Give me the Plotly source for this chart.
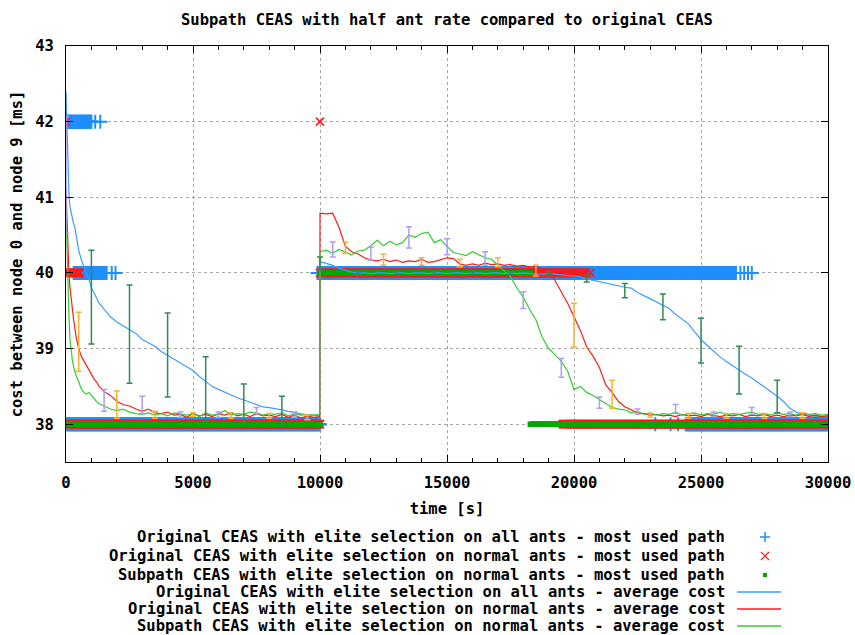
import plotly.graph_objects as go

# ---------------- data ----------------
TIME = ([0, 40, 80, 120, 160, 200, 250, 300, 350, 400, 500, 600, 700, 800, 900,
         1000, 1100, 1200, 1300, 1400, 1500]
        + list(range(1750, 10000, 250)) + [9990]
        + list(range(10000, 30001, 250)))

BLUE_AVG = [
    42.4, 41.8, 41.2, 41.0, 40.87, 40.8, 40.72, 40.65, 40.6, 40.5, 40.3, 40.18, 40.08, 40.0, 39.92,
    39.8, 39.74, 39.66, 39.6, 39.56, 39.52,
    39.42, 39.35, 39.3, 39.24, 39.2, 39.12, 39.07, 39.03, 38.96, 38.91, 38.86, 38.82, 38.77, 38.71,
    38.63, 38.56, 38.5, 38.46, 38.42, 38.38, 38.35, 38.32, 38.29, 38.26, 38.23, 38.22, 38.21, 38.19,
    38.17, 38.15, 38.14, 38.12, 38.12,
    38.11,
    40.15, 40.13, 40.10, 40.06,
    40.03, 40.01, 40.00, 40.00,
    39.99, 40.00, 40.00, 39.99,
    40.00, 40.00, 39.99, 40.00,
    40.00, 39.99, 40.00, 40.00,
    39.99, 40.00, 40.00, 39.99,
    40.00, 40.00, 39.99, 40.00,
    40.00, 39.99, 40.00, 39.99,
    40.00, 39.99, 39.99, 39.98,
    39.99, 39.98, 39.97, 39.97,
    39.96, 39.95, 39.92, 39.90,
    39.88, 39.87, 39.85, 39.83,
    39.81, 39.80, 39.74, 39.70,
    39.66, 39.62, 39.57, 39.53,
    39.45, 39.39, 39.33, 39.22,
    39.12, 39.04, 38.96, 38.89,
    38.83, 38.77, 38.72, 38.66,
    38.61, 38.55, 38.50, 38.43,
    38.37, 38.30, 38.21, 38.16,
    38.13, 38.12, 38.11, 38.10,
    38.11,
]

RED_AVG = [
    41.1, 40.6, 40.2, 39.95, 39.8, 39.65, 39.5, 39.38, 39.27, 39.15, 39.0, 38.9, 38.84, 38.78, 38.7,
    38.64, 38.6, 38.56, 38.5, 38.47, 38.43,
    38.38, 38.3, 38.26, 38.24, 38.2, 38.17, 38.2, 38.15, 38.14, 38.16, 38.12, 38.13, 38.09, 38.14,
    38.11, 38.13, 38.1, 38.14, 38.12, 38.15, 38.11, 38.13, 38.1, 38.14, 38.11, 38.12, 38.1, 38.13,
    38.09, 38.12, 38.08, 38.11, 38.09,
    38.1,
    40.79, 40.78, 40.79, 40.60,
    40.35, 40.28, 40.25, 40.20,
    40.17, 40.16, 40.18, 40.15,
    40.17, 40.14, 40.16, 40.15,
    40.18, 40.14, 40.15, 40.17,
    40.20, 40.19, 40.12, 40.10,
    40.12, 40.10, 40.13, 40.11,
    40.12, 40.10, 40.11, 40.09,
    40.10, 40.08, 40.08, 40.06,
    40.02, 39.90, 39.75, 39.60,
    39.42, 39.24, 39.02, 38.90,
    38.75, 38.52, 38.42, 38.30,
    38.23, 38.19, 38.15, 38.14,
    38.12, 38.13, 38.11, 38.12,
    38.10, 38.13, 38.11, 38.12,
    38.10, 38.13, 38.11, 38.10,
    38.12, 38.11, 38.13, 38.10,
    38.12, 38.11, 38.13, 38.10,
    38.12, 38.10, 38.12, 38.11,
    38.13, 38.10, 38.12, 38.10,
    38.11,
]

GREEN_AVG = [
    40.85, 40.3, 39.85, 39.4, 39.1, 38.95, 38.85, 38.76, 38.7, 38.64, 38.56, 38.47, 38.42, 38.4, 38.42,
    38.38, 38.33, 38.3, 38.27, 38.26, 38.24,
    38.2, 38.18, 38.2, 38.16, 38.14, 38.13, 38.15, 38.12, 38.14, 38.11, 38.15, 38.13, 38.12, 38.14,
    38.1, 38.15, 38.12, 38.13, 38.18, 38.12, 38.14, 38.13, 38.16, 38.15, 38.12, 38.14, 38.13, 38.15,
    38.11, 38.14, 38.12, 38.13, 38.12,
    38.13,
    40.28, 40.30, 40.26, 40.31,
    40.28, 40.24, 40.29, 40.30,
    40.36, 40.43, 40.36, 40.42,
    40.37, 40.40, 40.50, 40.47,
    40.52, 40.54, 40.40, 40.44,
    40.35, 40.27, 40.25, 40.23,
    40.28, 40.24, 40.20, 40.18,
    40.10, 40.02, 39.95, 39.80,
    39.68, 39.52, 39.38, 39.15,
    39.00, 38.92, 38.83, 38.70,
    38.46, 38.50, 38.42, 38.38,
    38.33, 38.28, 38.22, 38.20,
    38.19, 38.15, 38.17, 38.13,
    38.15, 38.12, 38.14, 38.13,
    38.16, 38.12, 38.14, 38.15,
    38.12, 38.14, 38.13, 38.16,
    38.12, 38.14, 38.13, 38.15,
    38.16, 38.13, 38.14, 38.12,
    38.15, 38.13, 38.14, 38.12,
    38.15, 38.13, 38.14, 38.12,
    38.13,
]

# error bars (low / high)
BLUE_ERR_T = [1000, 2500, 4000, 5500, 7000, 8500, 10000, 11500, 13000, 14500, 16000, 17500, 19000,
              20500, 22000, 23500, 25000, 26500, 28000, 29500]
BLUE_ERR_LO = [39.06, 38.54, 38.36, 38.04, 38.01, 37.99, 40.04, 39.98, 39.98, 39.98, 39.98, 39.98, 39.98,
               39.88, 39.67, 39.38, 38.81, 38.40, 38.15, 38.01]
BLUE_ERR_HI = [40.3, 39.84, 39.47, 38.89, 38.53, 38.37, 40.21, 40.02, 40.02, 40.02, 40.02, 40.02, 40.02,
               39.97, 39.86, 39.72, 39.40, 39.03, 38.58, 38.09]

RED_ERR_T = [500, 2000, 3500, 5000, 6500, 8000, 9500, 11000, 12500, 14000, 15500, 17000, 18500,
             20000, 21500, 23000, 24500, 26000, 27500, 29000]
RED_ERR_LO = [38.70, 38.08, 38.08, 38.10, 38.08, 38.08, 38.06, 40.26, 40.10, 40.10, 40.08, 40.08, 39.96,
              39.02, 38.21, 38.09, 38.08, 38.08, 38.08, 38.08]
RED_ERR_HI = [39.48, 38.44, 38.17, 38.15, 38.15, 38.14, 38.12, 40.41, 40.25, 40.20, 40.18, 40.20, 40.10,
              39.60, 38.58, 38.14, 38.14, 38.14, 38.14, 38.15]

GREEN_ERR_T = [0, 1500, 3000, 4500, 6000, 7500, 9000, 10500, 12000, 13500, 15000, 16500, 18000,
               19500, 21000, 22500, 24000, 25500, 27000, 28500]
GREEN_ERR_LO = [40.53, 38.17, 38.14, 38.09, 38.09, 38.14, 38.09, 40.21, 40.17, 40.33, 40.24, 40.10, 39.53,
                38.62, 38.21, 38.13, 38.14, 38.10, 38.13, 38.10]
GREEN_ERR_HI = [42.06, 38.46, 38.37, 38.16, 38.16, 38.22, 38.16, 40.41, 40.34, 40.61, 40.45, 40.28, 39.75,
                38.87, 38.36, 38.20, 38.26, 38.16, 38.22, 38.16]

# most used path: runs (start, end, value) + isolated samples
BLUE_RUN_START = [0, 300, 0, 9900, 24400]
BLUE_RUN_END = [1000, 1600, 10000, 26380, 30000]
BLUE_RUN_VAL = [42, 40, 38, 40, 38]
BLUE_PT_T = [1150, 1350, 1800, 1950, 26550, 26700, 26850, 27000, 23200, 23800, 24100]
BLUE_PT_V = [42, 42, 40, 40, 40, 40, 40, 40, 38, 38, 38]

RED_RUN_START = [0, 0, 10000, 19550]
RED_RUN_END = [550, 10000, 20500, 30000]
RED_RUN_VAL = [40, 38, 40, 38]
RED_PT_T = [0, 10000, 20650]
RED_PT_V = [42, 42, 40]

GREEN_RUN_START = [0, 10000, 18270]
GREEN_RUN_END = [10000, 18300, 30000]
GREEN_RUN_VAL = [38, 40, 38]
GREEN_PT_T = []
GREEN_PT_V = []

X_TICKS = [0, 5000, 10000, 15000, 20000, 25000, 30000]
X_TICK_TEXT = ["0", "5000", "10000", "15000", "20000", "25000", "30000"]
Y_TICKS = [38, 39, 40, 41, 42, 43]

LEGEND_NAMES = [
    "Original CEAS with elite selection on all ants - most used path",
    "Original CEAS with elite selection on normal ants - most used path",
    "Subpath CEAS with elite selection on normal ants - most used path",
    "Original CEAS with elite selection on all ants - average cost",
    "Original CEAS with elite selection on normal ants - average cost",
    "Subpath CEAS with elite selection on normal ants - average cost",
]

# ---------------- styling ----------------
C_BLUE_PT = "#1f8fff"
C_BLUE = "#3d9dff"
C_RED = "#ff1a1a"
C_GREEN_PT = "#00a800"
C_GREEN = "#33cc33"
C_ERR_BLUE = "#2e8b57"
C_ERR_RED = "#ffb030"
C_ERR_GREEN = "#b09cf2"
FONT = "DejaVu Sans Mono"
FS = 15.5


def expand(starts, ends, vals, pt_t, pt_v, step=25):
    xs, ys = [], []
    for s, e, v in zip(starts, ends, vals):
        t = s
        while t <= e:
            xs.append(t)
            ys.append(v)
            t += step
    xs += list(pt_t)
    ys += list(pt_v)
    return xs, ys


fig = go.Figure()

bx, by = expand(BLUE_RUN_START, BLUE_RUN_END, BLUE_RUN_VAL, BLUE_PT_T, BLUE_PT_V)
fig.add_trace(go.Scatter(x=bx, y=by, mode="markers", name=LEGEND_NAMES[0], showlegend=False,
                         marker=dict(symbol="cross-thin", size=10, line=dict(color=C_BLUE_PT, width=2))))
rx, ry = expand(RED_RUN_START, RED_RUN_END, RED_RUN_VAL, RED_PT_T, RED_PT_V)
fig.add_trace(go.Scatter(x=rx, y=ry, mode="markers", name=LEGEND_NAMES[1], showlegend=False,
                         marker=dict(symbol="x-thin", size=8, line=dict(color=C_RED, width=1.6))))
gx, gy = expand(GREEN_RUN_START, GREEN_RUN_END, GREEN_RUN_VAL, GREEN_PT_T, GREEN_PT_V)
fig.add_trace(go.Scatter(x=gx, y=gy, mode="markers", name=LEGEND_NAMES[2], showlegend=False,
                         marker=dict(symbol="square", size=5, color=C_GREEN_PT, line=dict(width=0))))

for ys, col, nm in [(BLUE_AVG, C_BLUE, LEGEND_NAMES[3]), (RED_AVG, C_RED, LEGEND_NAMES[4]),
                    (GREEN_AVG, C_GREEN, LEGEND_NAMES[5])]:
    fig.add_trace(go.Scatter(x=TIME, y=ys, mode="lines", name=nm, showlegend=False,
                             line=dict(color=col, width=1.2)))

for ts, lo, hi, col in [(BLUE_ERR_T, BLUE_ERR_LO, BLUE_ERR_HI, C_ERR_BLUE),
                        (RED_ERR_T, RED_ERR_LO, RED_ERR_HI, C_ERR_RED),
                        (GREEN_ERR_T, GREEN_ERR_LO, GREEN_ERR_HI, C_ERR_GREEN)]:
    mid = [(a + b) / 2 for a, b in zip(lo, hi)]
    half = [(b - a) / 2 for a, b in zip(lo, hi)]
    fig.add_trace(go.Scatter(x=ts, y=mid, mode="markers", showlegend=False, hoverinfo="skip",
                             marker=dict(size=1, color="rgba(0,0,0,0)"),
                             error_y=dict(type="data", array=half, visible=True, color=col,
                                          thickness=1.5, width=3)))

# ---------------- layout ----------------
W, H = 855, 635
L, R, T, B = 66, 27, 46, 173
PW, PH = W - L - R, H - T - B


def px(x):
    return (x - L) / PW


def py(y):
    return (H - B - y) / PH


TFONT = dict(family=FONT, size=FS, color="black", weight="bold")

axis_common = dict(showline=True, linecolor="black", linewidth=1, mirror="ticks",
                   ticks="inside", ticklen=7, tickcolor="black", tickwidth=1,
                   showgrid=True, gridcolor="#a8a8a8", griddash="dot", gridwidth=1,
                   zeroline=False, tickfont=TFONT)

fig.update_layout(
    width=W, height=H,
    margin=dict(l=L, r=R, t=T, b=B, autoexpand=False),
    paper_bgcolor="white", plot_bgcolor="white",
    showlegend=False,
    font=TFONT,
    title=dict(text="Subpath CEAS with half ant rate compared to original CEAS",
               x=0.5 * (L + W - R) / W, xanchor="center", y=1 - 20 / H, yanchor="middle",
               font=TFONT),
    xaxis=dict(range=[0, 30000], tickvals=X_TICKS, ticktext=X_TICK_TEXT,
               minor=dict(dtick=1000, ticks="inside", ticklen=4, tickcolor="black", showgrid=False),
               title=dict(text="time [s]", standoff=12, font=TFONT),
               ticklabelstandoff=6, **axis_common),
    yaxis=dict(range=[37.5, 43], tickvals=Y_TICKS,
               title=dict(text="cost between node 0 and node 9 [ms]", standoff=8, font=TFONT),
               ticklabelstandoff=8, **axis_common),
)

# gnuplot-style key: right-aligned text, sample to the right
key_y = [537, 556, 575, 592, 609, 626]
text_right = 727
sample_x = 765
annotations = []
shapes = []
for i, nm in enumerate(LEGEND_NAMES):
    annotations.append(dict(text=nm, xref="paper", yref="paper", x=px(text_right), y=py(key_y[i]),
                            xanchor="right", yanchor="middle", showarrow=False, font=TFONT))
# + sample
for dx0, dy0, dx1, dy1 in [(-5, 0, 5, 0), (0, -5, 0, 5)]:
    shapes.append(dict(type="line", xref="paper", yref="paper", xsizemode="pixel", ysizemode="pixel",
                       xanchor=px(sample_x), yanchor=py(key_y[0]), x0=dx0, x1=dx1, y0=dy0, y1=dy1,
                       line=dict(color=C_BLUE_PT, width=1.5)))
# x sample
for dx0, dy0, dx1, dy1 in [(-4, -4, 4, 4), (-4, 4, 4, -4)]:
    shapes.append(dict(type="line", xref="paper", yref="paper", xsizemode="pixel", ysizemode="pixel",
                       xanchor=px(sample_x), yanchor=py(key_y[1]), x0=dx0, x1=dx1, y0=dy0, y1=dy1,
                       line=dict(color=C_RED, width=1.2)))
# square sample
shapes.append(dict(type="rect", xref="paper", yref="paper", xsizemode="pixel", ysizemode="pixel",
                   xanchor=px(sample_x), yanchor=py(key_y[2]), x0=-2, x1=2, y0=-2, y1=2,
                   fillcolor=C_GREEN_PT, line=dict(width=0)))
for i, col in zip([3, 4, 5], [C_BLUE, C_RED, C_GREEN]):
    shapes.append(dict(type="line", xref="paper", yref="paper", x0=px(737), x1=px(781),
                       y0=py(key_y[i]), y1=py(key_y[i]), line=dict(color=col, width=1.5)))

fig.update_layout(annotations=annotations, shapes=shapes)

fig.write_html("out.html", include_plotlyjs=True, config=dict(displayModeBar=False))
